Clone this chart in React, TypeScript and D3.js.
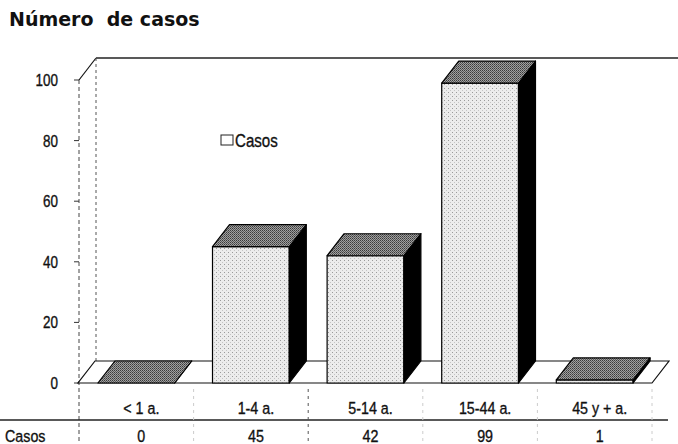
import { scaleBand, scaleLinear } from "d3";

const categories = ["< 1 a.", "1-4 a.", "5-14 a.", "15-44 a.", "45 y + a."];
const casos = [0, 45, 42, 99, 1];
const yTicks = [0, 20, 40, 60, 80, 100];
const seriesName = "Casos";

const W = 678;
const H = 444;
const DX = 17; // depth offset
const DY = -22;

// narrow-looking text: regular sans squeezed horizontally
const NText = ({ x, y, anchor = "start", size = 16, children }: any) => (
  <text
    transform={`translate(${x},${y}) scale(0.84,1)`}
    textAnchor={anchor}
    fontSize={size}
    fill="#111"
    stroke="#111"
    strokeWidth={0.35}
  >
    {children}
  </text>
);

const App = () => {
  const x = scaleBand<string>()
    .domain(categories)
    .range([79, 652])
    .paddingInner(0.33)
    .paddingOuter(0.165);
  const y = scaleLinear().domain([0, 100]).range([383, 80]);
  const y0 = y(0);
  const step = x.step();

  return (
    <svg
      width={W}
      height={H}
      style={{ position: "absolute", left: 0, top: 0, background: "#fff" }}
      fontFamily="'Liberation Sans', Arial, sans-serif"
    >
      <defs>
        <pattern id="frontDots" width="4" height="4" patternUnits="userSpaceOnUse">
          <rect width="4" height="4" fill="#ececec" />
          <rect x="0" y="0" width="1" height="1" fill="#9a9a9a" />
          <rect x="2" y="2" width="1" height="1" fill="#c4c4c4" />
        </pattern>
        <pattern id="topDots" width="2" height="2" patternUnits="userSpaceOnUse">
          <rect width="2" height="2" fill="#a0a0a0" />
          <rect x="0" y="0" width="1" height="1" fill="#3a3a3a" />
          <rect x="1" y="1" width="1" height="1" fill="#5a5a5a" />
        </pattern>
      </defs>

      {/* title */}
      <text x={9} y={26} fontFamily="'DejaVu Sans', sans-serif" fontWeight="bold" fontSize={19} fill="#111">
        {"Número\u00a0 de casos"}
      </text>

      {/* back wall top + left side wall */}
      <path d={`M${79 + DX},${y(100) + DY} H${W}`} stroke="#222" strokeWidth={1.3} fill="none" />
      <line x1={79} y1={y(100)} x2={79 + DX} y2={y(100) + DY} stroke="#111" strokeWidth={1.2} />
      <line x1={79 + DX} y1={y(100) + DY} x2={79 + DX} y2={y0 + DY} stroke="#555" strokeDasharray="3 3" />
      <line x1={79} y1={y(100)} x2={79} y2={H} stroke="#444" strokeDasharray="4 3" />

      {/* y ticks */}
      {yTicks.map((t) => (
        <g key={t}>
          <line x1={74} x2={79} y1={y(t)} y2={y(t)} stroke="#333" />
          <NText x={58} y={y(t) + 6} anchor="end">
            {t}
          </NText>
        </g>
      ))}

      {/* floor */}
      <path
        d={`M78,${y0} L652,${y0} L${652 + DX},${y0 + DY} L${78 + DX},${y0 + DY} Z`}
        fill="#fff"
        stroke="#111"
        strokeWidth={1.2}
      />

      {/* bars */}
      {categories.map((c, i) => {
        const x0 = x(c) as number;
        const x1 = x0 + x.bandwidth();
        const yt = y(casos[i]);
        return (
          <g key={c} stroke="#000" strokeWidth={1.2} strokeLinejoin="round">
            <rect x={x0} y={yt} width={x1 - x0} height={y0 - yt} fill="url(#frontDots)" />
            <path
              d={`M${x1},${yt} L${x1 + DX},${yt + DY} L${x1 + DX},${y0 + DY} L${x1},${y0} Z`}
              fill="#000"
            />
            <path
              d={`M${x0},${yt} L${x1},${yt} L${x1 + DX},${yt + DY} L${x0 + DX},${yt + DY} Z`}
              fill="url(#topDots)"
            />
          </g>
        );
      })}

      {/* legend */}
      <rect x={221} y={135} width={12} height={10} fill="#fff" stroke="#222" />
      <NText x={235} y={147} size={18}>
        {seriesName}
      </NText>

      {/* data table */}
      <line x1={0} x2={668} y1={420} y2={420} stroke="#222" strokeWidth={1.3} />
      {categories.map((c, i) => (
        <line
          key={c}
          x1={79 + step * (i + 1)}
          x2={79 + step * (i + 1)}
          y1={y0 + 6}
          y2={H}
          stroke={i === 1 ? "#555" : "#ccc"}
          strokeDasharray="3 4"
        />
      ))}
      {categories.map((c) => (
        <NText key={c} x={(x(c) as number) + x.bandwidth() / 2 + 5} y={414} anchor="middle" size={17}>
          {c}
        </NText>
      ))}
      <NText x={5} y={442} size={17}>
        {seriesName}
      </NText>
      {casos.map((v, i) => (
        <NText key={categories[i]} x={(x(categories[i]) as number) + x.bandwidth() / 2 + 5} y={442} anchor="middle" size={17}>
          {v}
        </NText>
      ))}
    </svg>
  );
};

export default App;
